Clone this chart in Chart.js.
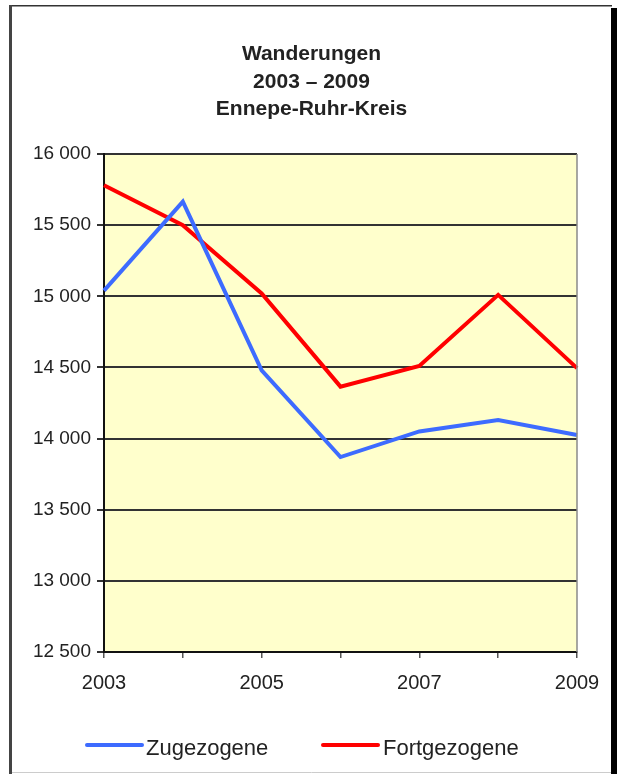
<!DOCTYPE html>
<html>
<head>
<meta charset="utf-8">
<script src="https://cdn.jsdelivr.net/npm/chart.js@4/dist/chart.umd.min.js"></script>
<style>
html,body{margin:0;padding:0;background:#fff;}
canvas{display:block;}
</style>
</head>
<body>
<canvas id="c" width="621" height="774"></canvas>
<script>
const years = ['2003','2004','2005','2006','2007','2008','2009'];
const zugezogene = [15040, 15665, 14480, 13870, 14050, 14130, 14025];
const fortgezogene = [15780, 15500, 15020, 14365, 14510, 15010, 14495];
const titleLines = ['Wanderungen', '2003 \u2013 2009', 'Ennepe-Ruhr-Kreis'];
const seriesNames = ['Zugezogene', 'Fortgezogene'];
const yMin = 12500, yMax = 16000, yStep = 500;

const FONT = '"Liberation Sans", Arial, sans-serif';

const framePlugin = {
  id: 'frame',
  beforeDraw(chart) {
    const ctx = chart.ctx, a = chart.chartArea;
    ctx.save();
    ctx.fillStyle = '#fff';
    ctx.fillRect(0, 0, chart.width, chart.height);
    ctx.fillStyle = '#FFFFCC';
    ctx.fillRect(a.left, a.top, a.right - a.left, a.bottom - a.top);
    ctx.restore();
  },
  afterDraw(chart) {
    const ctx = chart.ctx, a = chart.chartArea;
    ctx.save();
    // plot right border
    ctx.strokeStyle = '#8a8a8a';
    ctx.lineWidth = 1.5;
    ctx.beginPath();
    ctx.moveTo(a.right, a.top);
    ctx.lineTo(a.right, a.bottom);
    ctx.stroke();
    // outer frame
    ctx.strokeStyle = '#333';
    ctx.lineWidth = 1.5;
    ctx.beginPath();
    ctx.moveTo(9, 5.75);
    ctx.lineTo(612, 5.75);
    ctx.stroke();
    ctx.fillStyle = '#444';
    ctx.fillRect(9, 5, 3, 769);
    ctx.fillStyle = '#000';
    ctx.fillRect(611, 8, 6, 766);
    ctx.strokeStyle = '#ccc';
    ctx.lineWidth = 1;
    ctx.beginPath();
    ctx.moveTo(12, 772.5);
    ctx.lineTo(611, 772.5);
    ctx.stroke();
    // title
    ctx.fillStyle = '#222';
    ctx.textAlign = 'center';
    ctx.textBaseline = 'alphabetic';
    ctx.font = 'bold 21px ' + FONT;
    const tb = [60, 87.5, 115];
    titleLines.forEach((t, i) => ctx.fillText(t, 311.5, tb[i]));
    // legend
    const ds = chart.data.datasets;
    const items = [{x1: 87, x2: 142, tx: 146}, {x1: 323, x2: 378, tx: 383}];
    ctx.font = '22px ' + FONT;
    ctx.textAlign = 'left';
    items.forEach((it, i) => {
      ctx.strokeStyle = ds[i].borderColor;
      ctx.lineWidth = 4;
      ctx.lineCap = 'round';
      ctx.beginPath();
      ctx.moveTo(it.x1, 745);
      ctx.lineTo(it.x2, 745);
      ctx.stroke();
      ctx.fillStyle = '#222';
      ctx.fillText(seriesNames[i], it.tx, 755);
    });
    ctx.restore();
  }
};

new Chart(document.getElementById('c'), {
  type: 'line',
  data: {
    labels: years,
    datasets: [
      {label: seriesNames[0], data: zugezogene, borderColor: '#3d6bff', borderWidth: 4, pointRadius: 0, tension: 0, fill: false},
      {label: seriesNames[1], data: fortgezogene, borderColor: '#ff0000', borderWidth: 4, pointRadius: 0, tension: 0, fill: false}
    ]
  },
  options: {
    responsive: false,
    animation: false,
    events: [],
    layout: {padding: {left: 0, right: 44, top: 154, bottom: 72}},
    plugins: {legend: {display: false}, title: {display: false}, tooltip: {enabled: false}},
    scales: {
      x: {
        type: 'category',
        offset: false,
        afterFit(s) { s.height = 50; },
        grid: {display: true, drawOnChartArea: false, drawTicks: true, tickLength: 6, color: '#555', lineWidth: 1.5},
        border: {display: true, color: '#111', width: 2},
        ticks: {
          autoSkip: false, maxRotation: 0, padding: 13, color: '#222',
          font: {family: FONT, size: 20},
          callback(v, i) { return i % 2 === 0 ? this.getLabelForValue(v) : ''; }
        }
      },
      y: {
        min: yMin, max: yMax,
        afterFit(s) { s.width = 104; },
        grid: {display: true, drawTicks: true, tickLength: 7, color: '#333', lineWidth: 2},
        border: {display: true, color: '#111', width: 2},
        ticks: {
          stepSize: yStep, padding: 6, color: '#222',
          font: {family: FONT, size: 19},
          callback(v) { return String(v).replace(/\B(?=(\d{3})+(?!\d))/g, ' '); }
        }
      }
    }
  },
  plugins: [framePlugin]
});
</script>
</body>
</html>
